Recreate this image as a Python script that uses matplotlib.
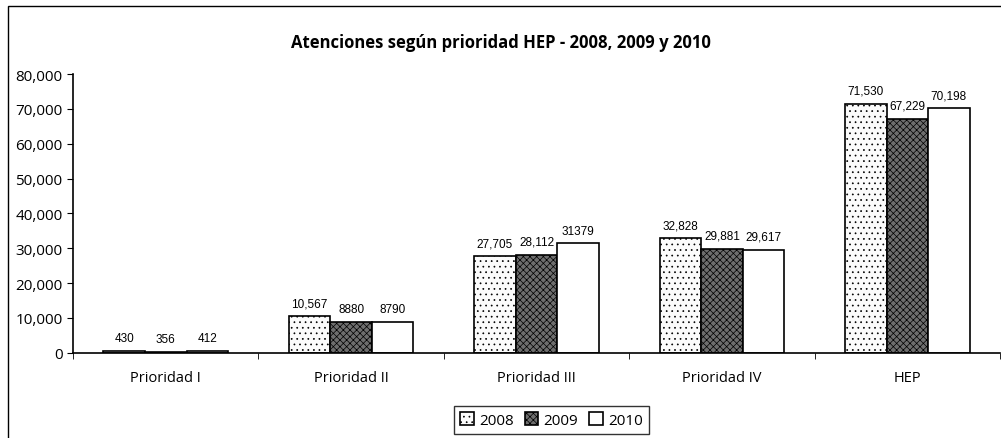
import numpy as np
import matplotlib.pyplot as plt
from matplotlib.patches import Rectangle

categories = ["Prioridad I", "Prioridad II", "Prioridad III", "Prioridad IV", "HEP"]
years = ["2008", "2009", "2010"]
v2008 = [430, 10567, 27705, 32828, 71530]
v2009 = [356, 8880, 28112, 29881, 67229]
v2010 = [412, 8790, 31379, 29617, 70198]
labels2008 = ["430", "10,567", "27,705", "32,828", "71,530"]
labels2009 = ["356", "8880", "28,112", "29,881", "67,229"]
labels2010 = ["412", "8790", "31379", "29,617", "70,198"]
yticks = [0, 10000, 20000, 30000, 40000, 50000, 60000, 70000, 80000]

plt.rcParams["hatch.color"] = "#9a9a9a"
plt.rcParams["hatch.linewidth"] = 0.5

fig = plt.figure(figsize=(10.01, 4.39), dpi=100)
ax = fig.add_axes([0.073, 0.194, 0.926, 0.635])

# outer chart frame
fig.patches.append(Rectangle((0.008, -0.01), 1.1, 1 - 7 / 439 + 0.01, transform=fig.transFigure,
                             fill=False, edgecolor="black", linewidth=1.0))

x = np.arange(len(categories))
w = 0.224
styles = [
    dict(facecolor="#fbfbfb", hatch="...", edgecolor="black"),
    dict(facecolor="#6e6e6e", hatch="xxxxx", edgecolor="black"),
    dict(facecolor="white", hatch="", edgecolor="black"),
]
series = [v2008, v2009, v2010]
lab = [labels2008, labels2009, labels2010]

bars_all = []
for i, (vals, st) in enumerate(zip(series, styles)):
    bars = ax.bar(x + (i - 1) * w, vals, w, linewidth=1.2, label=years[i], **st)
    bars_all.append(bars)
    for b, t in zip(bars, lab[i]):
        ax.annotate(t, (b.get_x() + b.get_width() / 2, b.get_height()),
                    xytext=(0, 5), textcoords="offset points", ha="center", va="bottom",
                    fontsize=8.5, family="Liberation Sans")

ax.set_xlim(-0.5, len(categories) - 0.5)
ax.set_ylim(0, 80000)
ax.set_yticks(yticks)
ax.set_yticklabels([f"{v:,}" for v in yticks], fontsize=11, family="Open Sans")
ax.set_xticks(x)
ax.set_xticklabels(categories, fontsize=10.5, family="Open Sans")
ax.set_xticks(np.arange(-0.5, len(categories) + 0.5, 1), minor=True)
ax.tick_params(axis="x", which="major", length=0, pad=12)
ax.tick_params(axis="x", which="minor", length=4, direction="out")
ax.tick_params(axis="y", length=4, direction="out")
for s in ["top", "right"]:
    ax.spines[s].set_visible(False)
ax.spines["left"].set_linewidth(1.2)
ax.spines["bottom"].set_linewidth(1.2)

fig.text(0.5, 1 - 43 / 439, "Atenciones según prioridad HEP - 2008, 2009 y 2010",
         ha="center", va="center", fontsize=12, fontweight="bold", family="Open Sans")

leg = fig.legend(handles=bars_all, labels=years, loc="center", bbox_to_anchor=(0.551, 1 - 421 / 439),
                 ncol=3, frameon=True, fancybox=False, edgecolor="black",
                 handlelength=0.9, handleheight=0.9, handletextpad=0.35, columnspacing=0.7,
                 borderpad=0.4, prop={"family": "Open Sans", "size": 11})
leg.get_frame().set_linewidth(1.0)

fig.savefig("out.png", dpi=100)
